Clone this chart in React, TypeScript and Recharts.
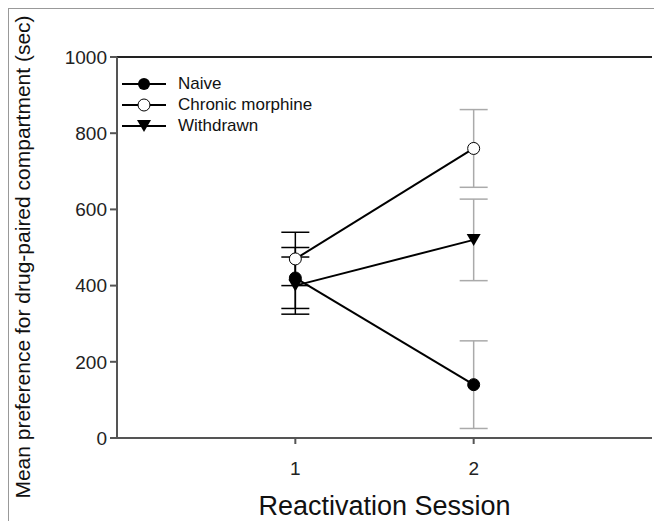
import React from "react";
import {
  LineChart,
  Line,
  XAxis,
  YAxis,
  ErrorBar,
  ReferenceLine,
  Label,
} from "recharts";

const sessions = [1, 2];
const naive = [420, 140];
const naiveErr = [80, 115];
const chronic = [470, 760];
const chronicErr = [70, 102];
const withdrawn = [400, 520];
const withdrawnErr = [75, 107];
const yTicks = [0, 200, 400, 600, 800, 1000];
const xTicks = [1, 2];

// first session error bars are black, second session ones are gray
const data = sessions.map((s, i) => ({
  session: s,
  naive: naive[i],
  chronic: chronic[i],
  withdrawn: withdrawn[i],
  naiveErrA: i === 0 ? naiveErr[i] : undefined,
  naiveErrB: i === 1 ? naiveErr[i] : undefined,
  chronicErrA: i === 0 ? chronicErr[i] : undefined,
  chronicErrB: i === 1 ? chronicErr[i] : undefined,
  withdrawnErrA: i === 0 ? withdrawnErr[i] : undefined,
  withdrawnErrB: i === 1 ? withdrawnErr[i] : undefined,
}));

const FONT = "'Liberation Sans', Arial, sans-serif";

const Triangle = (props: any) => {
  const { cx, cy } = props;
  if (cx == null || cy == null) return null;
  return (
    <path
      d={`M${cx - 7},${cy - 6} L${cx + 7},${cy - 6} L${cx},${cy + 6} Z`}
      fill="#000"
    />
  );
};

const legendItems = [
  { name: "Naive", marker: "filled" },
  { name: "Chronic morphine", marker: "open" },
  { name: "Withdrawn", marker: "tri" },
];

function LegendBox() {
  return (
    <div
      style={{
        position: "absolute",
        left: 113,
        top: 64,
        fontFamily: FONT,
        fontSize: 17,
        color: "#111",
      }}
    >
      {legendItems.map((it) => (
        <div
          key={it.name}
          style={{ display: "flex", alignItems: "center", height: 21 }}
        >
          <svg width={44} height={16} style={{ marginRight: 12 }}>
            <line x1={0} y1={8} x2={44} y2={8} stroke="#000" strokeWidth={2} />
            {it.marker === "filled" && <circle cx={22} cy={8} r={6} fill="#000" />}
            {it.marker === "open" && (
              <circle cx={22} cy={8} r={6} fill="#fff" stroke="#000" strokeWidth={1} />
            )}
            {it.marker === "tri" && <path d="M15,2 L29,2 L22,14 Z" fill="#000" />}
          </svg>
          <span>{it.name}</span>
        </div>
      ))}
    </div>
  );
}

const YTitle = () => (
  <text
    transform="translate(21,248) rotate(-90)"
    textAnchor="middle"
    fill="#111"
    fontSize={21}
    fontFamily={FONT}
  >
    Mean preference for drug-paired compartment (sec)
  </text>
);

export default function App() {
  return (
    <div
      style={{
        position: "relative",
        width: 653,
        height: 512,
        borderTop: "1px solid #999",
        borderLeft: "1px solid #999",
        background: "#fff",
      }}
    >
      <LineChart
        width={653}
        height={512}
        data={data}
        margin={{ top: 48, right: 10, bottom: 0, left: 0 }}
      >
        <XAxis
          dataKey="session"
          type="number"
          domain={[0, 3]}
          ticks={xTicks}
          tickSize={6}
          tickMargin={18}
          height={83}
          stroke="#555"
          strokeWidth={2}
          tick={{ fill: "#222", fontSize: 19, fontFamily: FONT }}
        >
          <Label
            value="Reactivation Session"
            position="insideBottom"
            offset={6}
            style={{ fill: "#111", fontSize: 27, fontFamily: FONT }}
          />
        </XAxis>
        <YAxis
          type="number"
          domain={[0, 1000]}
          ticks={yTicks}
          width={108}
          tickSize={7}
          tickMargin={3}
          stroke="#555"
          strokeWidth={2}
          tick={{ fill: "#222", fontSize: 19, fontFamily: FONT }}
        >
          <Label content={<YTitle />} />
        </YAxis>
        <ReferenceLine y={1000} stroke="#222" strokeWidth={2} />
        <Line
          dataKey="naive"
          name="Naive"
          stroke="#000"
          strokeWidth={2}
          isAnimationActive={false}
          dot={{ r: 6, fill: "#000", stroke: "#000", strokeWidth: 1 }}
        >
          <ErrorBar dataKey="naiveErrA" width={14} stroke="#000" strokeWidth={1.5} direction="y" />
          <ErrorBar dataKey="naiveErrB" width={14} stroke="#aaa" strokeWidth={1.5} direction="y" />
        </Line>
        <Line
          dataKey="chronic"
          name="Chronic morphine"
          stroke="#000"
          strokeWidth={2}
          isAnimationActive={false}
          dot={{ r: 6, fill: "#fff", stroke: "#000", strokeWidth: 1 }}
        >
          <ErrorBar dataKey="chronicErrA" width={14} stroke="#000" strokeWidth={1.5} direction="y" />
          <ErrorBar dataKey="chronicErrB" width={14} stroke="#aaa" strokeWidth={1.5} direction="y" />
        </Line>
        <Line
          dataKey="withdrawn"
          name="Withdrawn"
          stroke="#000"
          strokeWidth={2}
          isAnimationActive={false}
          dot={<Triangle />}
        >
          <ErrorBar dataKey="withdrawnErrA" width={14} stroke="#000" strokeWidth={1.5} direction="y" />
          <ErrorBar dataKey="withdrawnErrB" width={14} stroke="#aaa" strokeWidth={1.5} direction="y" />
        </Line>
      </LineChart>
      <LegendBox />
    </div>
  );
}
